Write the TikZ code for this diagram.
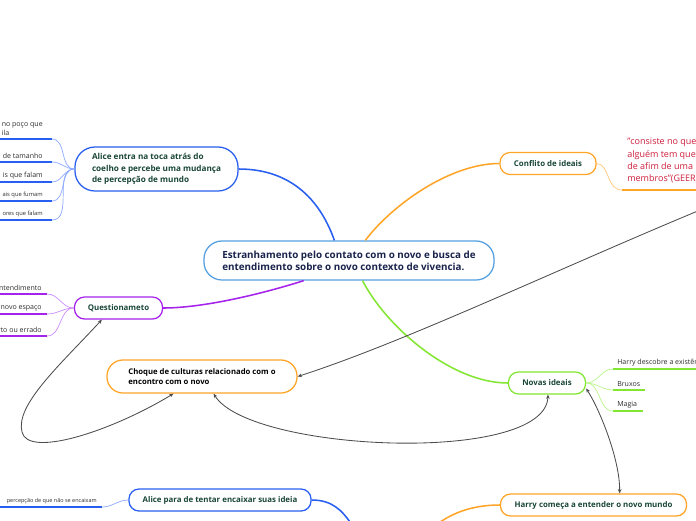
\documentclass[tikz,border=0pt]{standalone}
\usepackage{fontspec}
\setmainfont{Open Sans}
\usepackage{tikz}
\usetikzlibrary{arrows.meta,calc,positioning}

\definecolor{mmblue}{RGB}{40,95,240}
\definecolor{mmbluelt}{RGB}{140,170,255}
\definecolor{mmpurple}{RGB}{165,35,235}
\definecolor{mmpurplelt}{RGB}{205,140,250}
\definecolor{mmorange}{RGB}{255,165,40}
\definecolor{mmorangelt}{RGB}{255,200,120}
\definecolor{mmgreen}{RGB}{130,230,50}
\definecolor{mmgreenlt}{RGB}{185,245,140}
\definecolor{mmcentral}{RGB}{85,160,225}
\definecolor{mmtext}{RGB}{25,70,55}
\definecolor{mmnavy}{RGB}{25,35,75}
\definecolor{mmred}{RGB}{205,30,60}
\definecolor{mmgray}{RGB}{45,45,45}

\begin{document}
\begin{tikzpicture}[
    x=0.025cm, y=-0.025cm,
    topic/.style={draw=#1, line width=0.9pt, rounded corners=0.25cm, fill=white, inner sep=0pt, text=mmtext, font=\fontsize{5.6}{7}\selectfont\bfseries, minimum height=0.55cm},
    leaf/.style={inner sep=0pt, text=mmgray, font=\fontsize{5}{6.2}\selectfont, align=left},
    branch/.style={line width=1.1pt, draw=#1},
    twig/.style={line width=0.5pt, draw=#1},
    uline/.style={line width=1.4pt, draw=#1},
    rel/.style={semithick, draw=black!70, {Stealth[length=3pt,width=2.6pt]}-{Stealth[length=3pt,width=2.6pt]}},
    relto/.style={semithick, draw=black!70, -{Stealth[length=3pt,width=2.6pt]}}
]
\useasboundingbox (0,0) rectangle (696,520);
\clip (0,0) rectangle (696,520);

% Central topic
\node[topic=mmcentral, rounded corners=0.45cm, minimum width=7.25cm, minimum height=0.975cm, align=left, text=mmnavy, font=\fontsize{7}{8.3}\selectfont\bfseries] (central) at (349,260.5) {Estranhamento pelo contato com o novo e busca de\\entendimento sobre o novo contexto de vivencia.};

% Main topics
\node[topic=mmblue, rounded corners=0.5cm, minimum width=4.075cm, minimum height=1.1cm, align=left, font=\fontsize{5.8}{8.2}\selectfont\bfseries] (alice) at (156.5,169) {Alice entra na toca atrás do\\coelho e percebe uma mudança\\de percepção de mundo};
\node[topic=mmpurple, minimum width=2.2cm] (quest) at (118.5,308) {Questionameto};
\node[topic=mmorange, minimum width=2.4cm] (conflito) at (548,163.5) {Conflito de ideais};
\node[topic=mmgreen, minimum width=1.925cm] (novas) at (547,383) {Novas ideais};
\node[topic=mmorange, rounded corners=0.4cm, minimum width=4.75cm, minimum height=0.825cm, align=left, text=black, font=\fontsize{5.5}{7.1}\selectfont\bfseries] (choque) at (202,376.5) {Choque de culturas relacionado com o\\encontro com o novo};
\node[topic=mmblue, minimum width=4.55cm] (alicepara) at (220,500) {Alice para de tentar encaixar suas ideia};
\node[topic=mmorange, minimum width=4.65cm] (harry) at (593.5,505) {Harry começa a entender o novo mundo};

% Off-canvas ends
\coordinate (relstart) at (705,208);
\coordinate (aliceout) at (352,525);
\coordinate (harryout) at (436,525);

% Branches from the central topic
\draw[branch=mmblue] (alice.east) .. controls (295,169) and (322,205) .. (central.126);
\draw[branch=mmorange] (central.51) .. controls (392,205) and (450,163.5) .. (conflito.west);
\draw[branch=mmpurple] (central.204) .. controls (255,296) and (200,308) .. (quest.east);
\draw[branch=mmgreen] (central.-56) .. controls (385,325) and (450,383) .. (novas.west);
\draw[branch=mmblue] (alicepara.east) .. controls (332,500) and (342,510) .. (aliceout);
\draw[branch=mmorange] (harry.west) .. controls (472,505) and (452,513) .. (harryout);

% Leaves of Alice
\foreach \n/\y in {1/139,2/162,3/182,4/201,5/220}{
  \coordinate (a\n) at (52,\y);
  \draw[uline=mmblue] (-5,\y) -- (a\n);
  \draw[twig=mmbluelt] (alice.west) to[out=180,in=0] (a\n);
}
\node[leaf, anchor=south east] (al1) at (43,136) {no poço que\\ila};
\node[leaf, anchor=south east] (al2) at (43,159) {de tamanho};
\node[leaf, anchor=south east] (al3) at (43,179) {is que falam};
\node[leaf, anchor=south east, font=\fontsize{4.1}{5}\selectfont] (al4) at (43,198) {ais que fumam};
\node[leaf, anchor=south east, font=\fontsize{4.1}{5}\selectfont] (al5) at (43,217) {ores que falam};

% Leaves of Questionameto
\foreach \n/\y in {1/294,2/314,3/336}{
  \coordinate (q\n) at (47,\y);
  \draw[uline=mmpurple] (-5,\y) -- (q\n);
  \draw[twig=mmpurplelt] (quest.west) to[out=180,in=0] (q\n);
}
\node[leaf, anchor=south east] (ql1) at (42,291) {entendimento};
\node[leaf, anchor=south east] (ql2) at (42,311) {novo espaço};
\node[leaf, anchor=south east] (ql3) at (42,333) {rto ou errado};

% Quote of Conflito
\node[leaf, anchor=north west, text=mmred, font=\fontsize{6.4}{8.7}\selectfont] (quote) at (627,138) {"consiste no que\\alguém tem que\\de afim de uma\\membros"(GEER};
\coordinate (qu0) at (622,190);
\coordinate (qu1) at (705,190);
\draw[twig=mmorangelt] (conflito.east) .. controls (610,164) and (606,190) .. (qu0);
\draw[uline=mmorange] (qu0) -- (qu1);

% Leaves of Novas ideais
\foreach \n/\y/\e in {1/369/705,2/390/645,3/411/643}{
  \coordinate (n\n) at (613,\y);
  \draw[uline=mmgreen] (n\n) -- (\e,\y);
  \draw[twig=mmgreenlt] (novas.east) to[out=0,in=180] (n\n);
}
\node[leaf, anchor=south west] (nl1) at (617,366) {Harry descobre a existência};
\node[leaf, anchor=south west] (nl2) at (617,387) {Bruxos};
\node[leaf, anchor=south west] (nl3) at (617,408) {Magia};

% Leaf of Alice para
\coordinate (ap1) at (102,507);
\draw[uline=mmblue] (-5,507) -- (ap1);
\draw[twig=mmbluelt] (alicepara.west) to[out=180,in=0] (ap1);
\node[leaf, anchor=south east, font=\fontsize{3.9}{5}\selectfont] (apl) at (97,504) {percepção de que não se encaixam};

% Relations
\draw[relto] (relstart) .. controls (560,268) and (405,342) .. (choque.east);
\draw[rel] (quest.215) .. controls (60,365) and (15,405) .. (22,432) .. controls (28,458) and (110,432) .. (choque.211);
\draw[rel] (choque.-56) .. controls (250,452) and (545,465) .. (novas.-85);
\draw[rel] (novas.-8) .. controls (600,410) and (620,460) .. (harry.24);

\end{tikzpicture}
\end{document}
